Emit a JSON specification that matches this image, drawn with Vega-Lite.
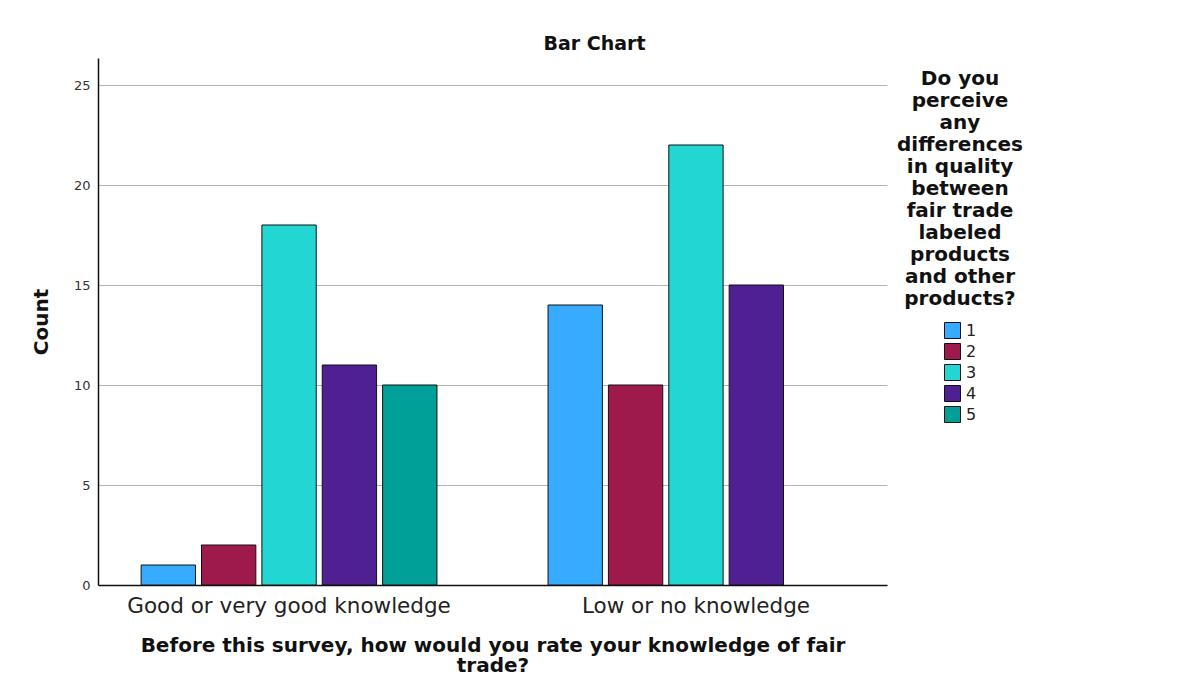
{
  "$schema": "https://vega.github.io/schema/vega-lite/v6.json",
  "width": 789,
  "height": 527,
  "autosize": {"type": "none"},
  "padding": {"left": 98, "top": 58, "right": 293, "bottom": 108},
  "background": "white",
  "title": {
    "text": "Bar Chart",
    "anchor": "middle",
    "dx": 102,
    "offset": 4,
    "font": "DejaVu Sans",
    "fontSize": 19,
    "fontWeight": "bold",
    "color": "#111111"
  },
  "data": {
    "values": [
      {"knowledge": "Good or very good knowledge", "answer": "1", "count": 1},
      {"knowledge": "Good or very good knowledge", "answer": "2", "count": 2},
      {"knowledge": "Good or very good knowledge", "answer": "3", "count": 18},
      {"knowledge": "Good or very good knowledge", "answer": "4", "count": 11},
      {"knowledge": "Good or very good knowledge", "answer": "5", "count": 10},
      {"knowledge": "Low or no knowledge", "answer": "1", "count": 14},
      {"knowledge": "Low or no knowledge", "answer": "2", "count": 10},
      {"knowledge": "Low or no knowledge", "answer": "3", "count": 22},
      {"knowledge": "Low or no knowledge", "answer": "4", "count": 15}
    ]
  },
  "mark": {"type": "bar", "stroke": "#111111", "strokeWidth": 1},
  "encoding": {
    "x": {
      "field": "knowledge",
      "type": "nominal",
      "scale": {"paddingInner": 0.273, "paddingOuter": 0.106},
      "axis": {
        "title": ["Before this survey, how would you rate your knowledge of fair", "trade?"],
        "titleFont": "DejaVu Sans",
        "titleFontSize": 20,
        "titleFontWeight": "bold",
        "titleColor": "#111111",
        "titleLineHeight": 20,
        "titlePadding": 19,
        "labelFont": "DejaVu Sans",
        "labelFontSize": 21.5,
        "labelLimit": 0,
        "labelColor": "#222222",
        "labelAngle": 0,
        "labelPadding": 10,
        "ticks": false,
        "domainColor": "#111111",
        "domainWidth": 1.5,
        "grid": false
      }
    },
    "xOffset": {
      "field": "answer",
      "type": "nominal",
      "scale": {"paddingInner": 0.1, "paddingOuter": 0}
    },
    "y": {
      "field": "count",
      "type": "quantitative",
      "scale": {"domain": [0, 26.35], "nice": false},
      "axis": {
        "title": "Count",
        "titleFont": "DejaVu Sans",
        "titleFontSize": 20,
        "titleFontWeight": "bold",
        "titleColor": "#111111",
        "titlePadding": 22,
        "values": [0, 5, 10, 15, 20, 25],
        "labelFont": "DejaVu Sans",
        "labelFontSize": 13,
        "labelColor": "#333333",
        "labelPadding": 8,
        "ticks": false,
        "domainColor": "#111111",
        "domainWidth": 1.5,
        "grid": true,
        "gridColor": "#b4b4b4",
        "gridWidth": 1
      }
    },
    "color": {
      "field": "answer",
      "type": "nominal",
      "scale": {
        "domain": ["1", "2", "3", "4", "5"],
        "range": ["#36abff", "#9e1a4c", "#22d6d3", "#4f2092", "#009f98"]
      },
      "legend": {
        "title": ["Do you", "perceive", "any", "differences", "in quality", "between", "fair trade", "labeled", "products", "and other", "products?"],
        "orient": "none",
        "legendX": 799,
        "legendY": 11,
        "titleFont": "DejaVu Sans",
        "titleFontSize": 20,
        "titleFontWeight": "bold",
        "titleColor": "#111111",
        "titleLineHeight": 22,
        "titleAlign": "center",
        "titleAnchor": "middle",
        "titlePadding": 13,
        "symbolType": "square",
        "symbolSize": 256,
        "symbolStrokeColor": "#111111",
        "symbolStrokeWidth": 1,
        "symbolOffset": 0,
        "labelFont": "DejaVu Sans",
        "labelFontSize": 16,
        "labelColor": "#222222",
        "labelOffset": 5,
        "rowPadding": 0,
        "padding": 0
      }
    }
  },
  "config": {
    "view": {"stroke": null}
  }
}
